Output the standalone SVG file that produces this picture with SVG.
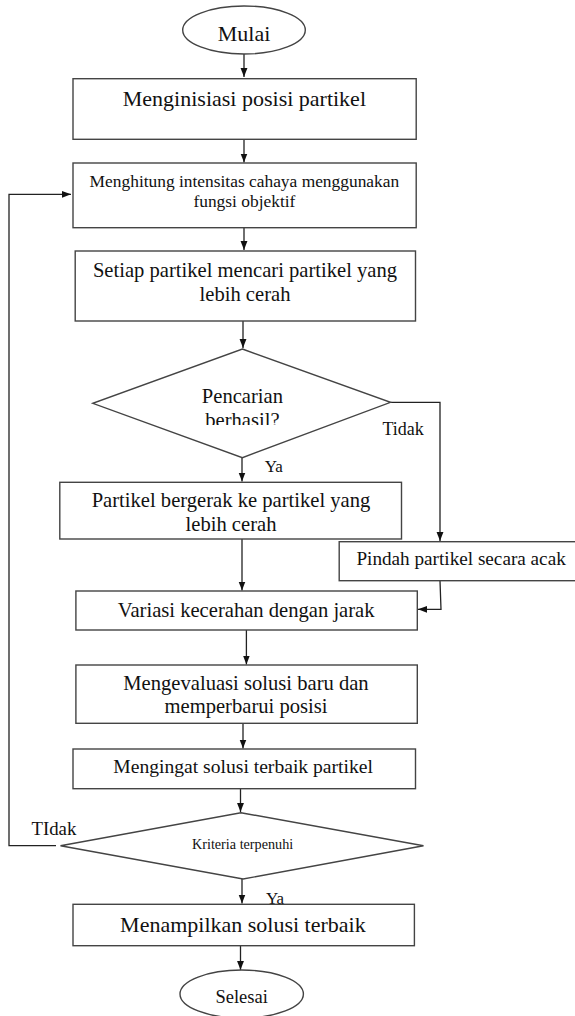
<svg xmlns="http://www.w3.org/2000/svg" width="575" height="1016" viewBox="0 0 575 1016">
  <style>
    .shape { fill: #ffffff; stroke: #444444; stroke-width: 1.4; }
    .link { fill: none; stroke: #222222; stroke-width: 1.3; }
    text { font-family: "Liberation Serif", "Times New Roman", serif; fill: #111111; }
    .c { text-anchor: middle; }
  </style>
  <defs>
    <marker id="arrow" viewBox="0 0 10 10" refX="10" refY="5" markerWidth="9" markerHeight="9" markerUnits="userSpaceOnUse" orient="auto">
      <path d="M0,1.2 L10,5 L0,8.8 z" fill="#111111"/>
    </marker>
    <clipPath id="cutLabel">
      <rect x="0" y="0" width="575" height="425"/>
    </clipPath>
  </defs>
  <rect width="575" height="1016" fill="#ffffff"/>

  <!-- connectors -->
  <g id="connectors">
    <path class="link" d="M244 54 L244 77" marker-end="url(#arrow)"/>
    <path class="link" d="M244 139.3 L244 162.5" marker-end="url(#arrow)"/>
    <path class="link" d="M244 227.7 L244 250" marker-end="url(#arrow)"/>
    <path class="link" d="M243 321 L243 348" marker-end="url(#arrow)"/>
    <path class="link" d="M242 457.7 L242 481.5" marker-end="url(#arrow)"/>
    <path class="link" d="M390.5 402.3 L440 402.3 L440 541" marker-end="url(#arrow)"/>
    <path class="link" d="M242 527 L242 590.5" marker-end="url(#arrow)"/>
    <path class="link" d="M440 580.7 L441 609.3 L418 609.3" marker-end="url(#arrow)"/>
    <path class="link" d="M246.4 630 L246.4 664.5" marker-end="url(#arrow)"/>
    <path class="link" d="M243 723.3 L243 748.5" marker-end="url(#arrow)"/>
    <path class="link" d="M240.5 788.7 L240.5 812" marker-end="url(#arrow)"/>
    <path class="link" d="M242 879 L242 903.5" marker-end="url(#arrow)"/>
    <path class="link" d="M240.5 945.7 L240.5 970" marker-end="url(#arrow)"/>
    <path class="link" d="M56 845.7 L9 845.7 L9 194.3 L71 194.3" marker-end="url(#arrow)"/>
    <text x="382.5" y="435" font-size="18">Tidak</text>
    <text x="264.8" y="472" font-size="17">Ya</text>
    <text x="31.5" y="835" font-size="18.8">TIdak</text>
    <text x="265.9" y="904" font-size="17">Ya</text>
  </g>

  <g id="start">
    <ellipse class="shape" cx="244" cy="30" rx="61.3" ry="24"/>
    <text class="c" x="244" y="40.7" font-size="22">Mulai</text>
  </g>

  <g id="init-positions">
    <rect class="shape" x="73" y="78.7" width="343.2" height="60.6"/>
    <text class="c" x="244.4" y="106" font-size="22">Menginisiasi posisi partikel</text>
  </g>

  <g id="light-intensity">
    <rect class="shape" x="73" y="163" width="343.2" height="64.7"/>
    <text class="c" x="244.4" y="187" font-size="17.4">Menghitung intensitas cahaya menggunakan</text>
    <text class="c" x="244.4" y="206.5" font-size="17.4">fungsi objektif</text>
  </g>

  <g id="find-brighter">
    <rect class="shape" x="75.2" y="251" width="340.3" height="70"/>
    <text class="c" x="245" y="276.7" font-size="20.6">Setiap partikel mencari partikel yang</text>
    <text class="c" x="245" y="300.7" font-size="20.6">lebih cerah</text>
  </g>

  <g id="search-decision">
    <polygon class="shape" points="242.4,349 390.5,402.3 242.4,457.7 92.8,403.3"/>
    <text class="c" x="242.4" y="403" font-size="20.6">Pencarian</text>
    <text class="c" x="242.4" y="427" font-size="20.6" clip-path="url(#cutLabel)">berhasil?</text>
  </g>

  <g id="move-to-brighter">
    <rect class="shape" x="59.8" y="482.3" width="341.7" height="56.7"/>
    <text class="c" x="231" y="506.7" font-size="20.6">Partikel bergerak ke partikel yang</text>
    <text class="c" x="231" y="531" font-size="20.6">lebih cerah</text>
  </g>

  <g id="random-move">
    <rect class="shape" x="339.2" y="541.7" width="250" height="39"/>
    <text x="356.4" y="564.8" font-size="19.2">Pindah partikel secara acak</text>
  </g>

  <g id="brightness-variation">
    <rect class="shape" x="75.9" y="591" width="341.4" height="39"/>
    <text class="c" x="246.2" y="616.7" font-size="20.6">Variasi kecerahan dengan jarak</text>
  </g>

  <g id="evaluate-update">
    <rect class="shape" x="75.9" y="665" width="341.4" height="58.3"/>
    <text class="c" x="246" y="690" font-size="20.6">Mengevaluasi solusi baru dan</text>
    <text class="c" x="246" y="713.3" font-size="20.6">memperbarui posisi</text>
  </g>

  <g id="remember-best">
    <rect class="shape" x="73" y="749" width="342.5" height="39.7"/>
    <text class="c" x="243.1" y="773.3" font-size="19.6">Mengingat solusi terbaik partikel</text>
  </g>

  <g id="criteria-decision">
    <polygon class="shape" points="240.9,812.7 423.5,845.7 243.1,879 60.5,845.7"/>
    <text class="c" x="242.6" y="849" font-size="14.2">Kriteria terpenuhi</text>
  </g>

  <g id="show-best">
    <rect class="shape" x="73" y="904.3" width="341.4" height="41.4"/>
    <text class="c" x="242.9" y="931.7" font-size="22">Menampilkan solusi terbaik</text>
  </g>

  <g id="finish">
    <ellipse class="shape" cx="241.7" cy="994" rx="61.7" ry="24"/>
    <text class="c" x="241.7" y="1003.3" font-size="18.5">Selesai</text>
  </g>
</svg>
